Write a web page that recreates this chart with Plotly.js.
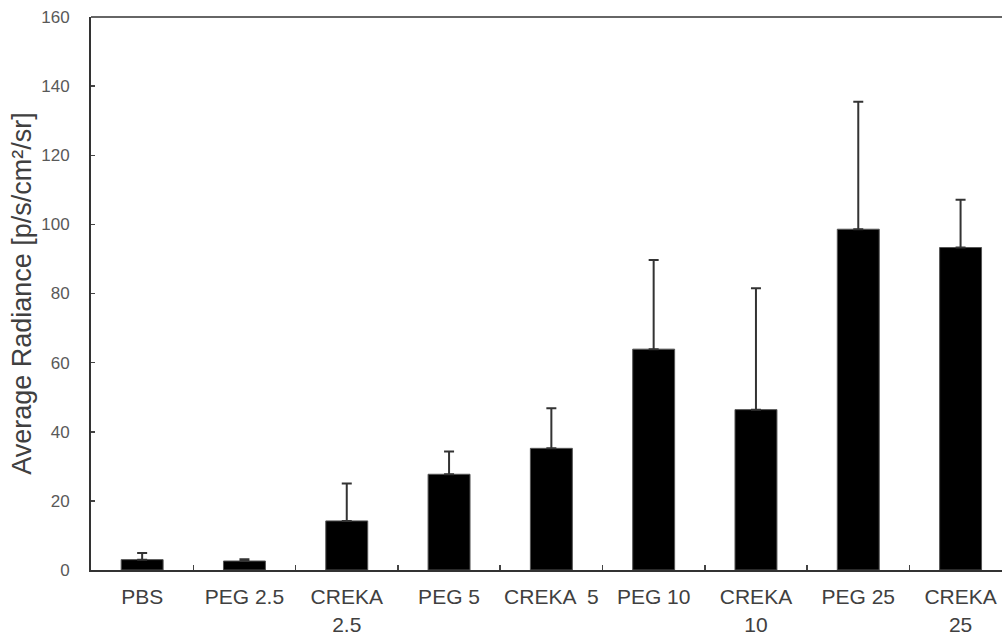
<!DOCTYPE html>
<html>
<head>
<meta charset="utf-8">
<script src="https://cdn.plot.ly/plotly-3.0.1.min.js"></script>
<style>
  html, body { margin: 0; padding: 0; background: #fff; }
  #chart { width: 1002px; height: 634px; }
</style>
</head>
<body>
<div id="chart"></div>
<script>
// Group labels (line breaks as printed under the axis)
const groups = ["PBS", "PEG 2.5", "CREKA<br>2.5", "PEG 5", "CREKA  5", "PEG 10", "CREKA<br>10", "PEG 25", "CREKA<br>25"];
// Mean average radiance per group
const radiance = [3.0, 2.6, 14.2, 27.7, 35.2, 63.9, 46.4, 98.6, 93.3];
// Upper error (SD) per group
const radianceErr = [1.9, 0.5, 10.8, 6.6, 11.6, 25.8, 35.1, 36.9, 13.8];
const yTicks = [0, 20, 40, 60, 80, 100, 120, 140, 160];

const trace = {
  type: "bar",
  x: groups,
  y: radiance,
  width: 0.41,
  marker: { color: "#000000", line: { color: "#555555", width: 1 } },
  error_y: {
    type: "data",
    symmetric: false,
    array: radianceErr,
    arrayminus: radianceErr.map(() => 0),
    color: "#333333",
    thickness: 2,
    width: 5
  },
  hoverinfo: "x+y"
};

const layout = {
  width: 1002,
  height: 634,
  margin: { l: 91, r: 0, t: 17, b: 64, pad: 0 },
  paper_bgcolor: "#ffffff",
  plot_bgcolor: "#ffffff",
  showlegend: false,
  font: { family: "Liberation Sans, Arial, sans-serif", color: "#404040" },
  bargap: 0.59,
  xaxis: {
    type: "category",
    range: [-0.5, 8.405],
    showline: true,
    linecolor: "#333333",
    linewidth: 2,
    ticks: "inside",
    tickson: "boundaries",
    ticklen: 5,
    tickwidth: 1.5,
    tickcolor: "#444444",
    tickangle: 0,
    tickfont: { size: 21, color: "#404040" },
    ticklabelstandoff: 7,
    showgrid: false,
    zeroline: false,
    automargin: false,
    fixedrange: true
  },
  yaxis: {
    range: [0, 160],
    tickvals: yTicks,
    ticktext: yTicks.map(String),
    showline: true,
    linecolor: "#333333",
    linewidth: 2,
    ticks: "inside",
    ticklen: 4,
    tickwidth: 1.5,
    tickcolor: "#444444",
    tickfont: { size: 17, color: "#595959" },
    ticklabelstandoff: 16,
    showgrid: false,
    zeroline: false,
    automargin: false,
    fixedrange: true,
    title: {
      text: "Average Radiance [p/s/cm²/sr]",
      font: { size: 27, color: "#404040" },
      standoff: 2
    }
  },
  shapes: [
    // frame line along the top of the plotting area
    { type: "line", xref: "paper", yref: "paper", x0: 0, x1: 1, y0: 1, y1: 1,
      line: { color: "#666666", width: 2 } }
  ]
};

Plotly.newPlot("chart", [trace], layout, { displayModeBar: false, staticPlot: true });
</script>
</body>
</html>
